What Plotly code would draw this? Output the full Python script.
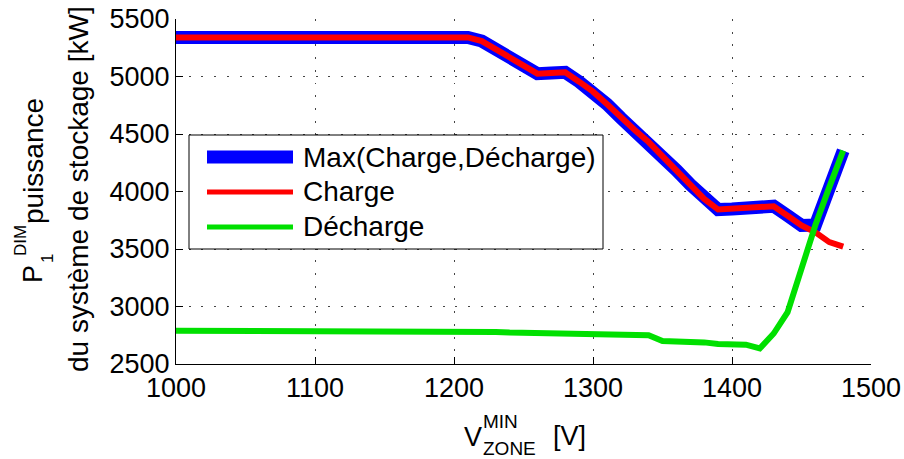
import numpy as np
import plotly.graph_objects as go

# Minimum zone voltage [V], sampled every 10 V
v_zone = [1000, 1010, 1020, 1030, 1040, 1050, 1060, 1070, 1080, 1090,
          1100, 1110, 1120, 1130, 1140, 1150, 1160, 1170, 1180, 1190,
          1200, 1210, 1220, 1230, 1240, 1250, 1260, 1270, 1280, 1290,
          1300, 1310, 1320, 1330, 1340, 1350, 1360, 1370, 1380, 1390,
          1400, 1410, 1420, 1430, 1440, 1450, 1460, 1470, 1480]

# Storage power sized for charging [kW]
p_charge = [5340, 5340, 5340, 5340, 5340, 5340, 5340, 5340, 5340, 5340,
            5340, 5340, 5340, 5340, 5340, 5340, 5340, 5340, 5340, 5340,
            5340, 5340, 5308, 5235, 5160, 5085, 5025, 5030, 5036, 4955,
            4868, 4760, 4640, 4535, 4430, 4310, 4185, 4060, 3935, 3843,
            3848, 3855, 3862, 3872, 3790, 3705, 3645, 3560, 3520]

# Storage power sized for discharging [kW]
p_discharge = [2790, 2790, 2790, 2790, 2790, 2790, 2789, 2789, 2789, 2789,
               2788, 2788, 2788, 2788, 2787, 2787, 2787, 2786, 2786, 2786,
               2785, 2781, 2778, 2778, 2773, 2771, 2771, 2770, 2770, 2765,
               2760, 2756, 2755, 2753, 2751, 2700, 2698, 2694, 2688, 2675,
               2674, 2668, 2635, 2765, 2950, 3335, 3708, 4038, 4355]

x_ticks = [1000, 1100, 1200, 1300, 1400, 1500]
y_ticks = [2500, 3000, 3500, 4000, 4500, 5000, 5500]

legend_labels = ["Max(Charge,Décharge)", "Charge", "Décharge"]

BLUE = "#0000ff"
RED = "#ff0000"
GREEN = "#00e000"
FONT = "Liberation Sans, Arial, sans-serif"

p_max = np.maximum(np.array(p_charge), np.array(p_discharge))

fig = go.Figure()
fig.add_trace(go.Scatter(x=v_zone, y=p_max, mode="lines",
                         line=dict(color=BLUE, width=13), name=legend_labels[0]))
fig.add_trace(go.Scatter(x=v_zone, y=p_charge, mode="lines",
                         line=dict(color=RED, width=6), name=legend_labels[1]))
fig.add_trace(go.Scatter(x=v_zone, y=p_discharge, mode="lines",
                         line=dict(color=GREEN, width=6), name=legend_labels[2]))

# plot area in pixels
W, H = 904, 459
L, R, T, B = 176, 871, 19, 364


def px(x):
    return (x - L) / (R - L)


def py(y):
    return (B - y) / (B - T)


shapes = []
annotations = []

# legend box
shapes.append(dict(type="rect", xref="paper", yref="paper",
                   x0=px(189), x1=px(603), y0=py(249), y1=py(135),
                   line=dict(color="black", width=1), fillcolor="white",
                   layer="above"))
legend_rows = [(157, BLUE, 13), (192, RED, 5), (227, GREEN, 5)]
for (yy, col, w), lab in zip(legend_rows, legend_labels):
    shapes.append(dict(type="line", xref="paper", yref="paper",
                       x0=px(207), x1=px(293), y0=py(yy), y1=py(yy),
                       line=dict(color=col, width=w), layer="above"))
    annotations.append(dict(xref="paper", yref="paper", x=px(301), y=py(yy),
                            xanchor="left", yanchor="middle", showarrow=False,
                            text=lab, font=dict(family=FONT, size=28, color="black")))


def note(x, y, text, size, xanchor="center", angle=0):
    annotations.append(dict(xref="paper", yref="paper", x=px(x), y=py(y),
                            xanchor=xanchor, yanchor="middle", showarrow=False,
                            text=text, textangle=angle,
                            font=dict(family=FONT, size=size, color="black")))


# x-axis title: V with stacked MIN / ZONE, then [V]
note(473, 437, "V", 27)
note(481, 421, "MIN", 19, xanchor="left")
note(481, 448, "ZONE", 19, xanchor="left")
note(569, 436, "[V]", 27)

# y-axis title (two rotated lines)
note(33, 274, "P", 27, angle=-90)
note(20, 241, "DIM", 17, angle=-90)
note(47, 259, "1", 17, angle=-90)
note(33, 161, "puissance", 28, angle=-90)
note(78, 189, "du système de stockage [kW]", 28, angle=-90)

axis_common = dict(showline=True, linecolor="black", linewidth=1,
                   ticks="inside", ticklen=7, tickcolor="black", tickwidth=1,
                   showgrid=True, gridcolor="#444444", gridwidth=1,
                   griddash="2px,10.7px", zeroline=False, automargin=False,
                   tickfont=dict(family=FONT, size=27, color="black"))

fig.update_xaxes(range=[1000, 1500], tickvals=x_ticks,
                 ticktext=[str(v) for v in x_ticks], **axis_common)
fig.update_yaxes(range=[2500, 5500], tickvals=y_ticks,
                 ticktext=[str(v) for v in y_ticks], **axis_common)

fig.update_layout(width=W, height=H, autosize=False,
                  margin=dict(l=L, r=W - R, t=T, b=H - B, pad=0),
                  paper_bgcolor="white", plot_bgcolor="white",
                  showlegend=False, shapes=shapes, annotations=annotations,
                  font=dict(family=FONT, color="black"))

fig.write_html("out.html")
